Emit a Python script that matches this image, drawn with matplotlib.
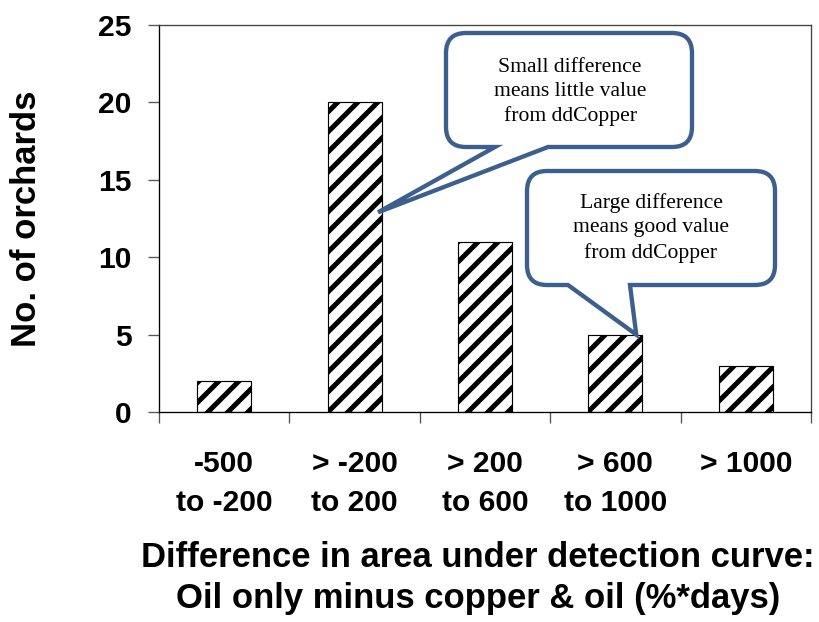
import matplotlib
matplotlib.use("Agg")
import matplotlib.pyplot as plt
from matplotlib.path import Path
from matplotlib.patches import PathPatch
import numpy as np

# Orchard counts per difference class
categories = ["-500\nto -200", "> -200\nto 200", "> 200\nto 600", "> 600\nto 1000", "> 1000"]
counts = [2, 20, 11, 5, 3]
y_ticks = [0, 5, 10, 15, 20, 25]

note_small = "Small difference\nmeans little value\nfrom ddCopper"
note_large = "Large difference\nmeans good value\nfrom ddCopper"

DPI = 120
W, H = 819, 622
plt.rcParams["hatch.linewidth"] = 3.0
plt.rcParams["hatch.color"] = "black"
sans = "Liberation Sans"
serif = "Liberation Serif"

fig = plt.figure(figsize=(W / DPI, H / DPI), dpi=DPI)
ax = fig.add_axes([159 / W, 1 - 412 / H, (811 - 159) / W, (412 - 25) / H])

x = np.arange(len(categories)) + 0.5
ax.bar(x, counts, width=0.415, color="white", edgecolor="black",
       linewidth=0.7, hatch="//", zorder=2)

ax.set_xlim(0, len(categories))
ax.set_ylim(0, 25)
ax.set_yticks(y_ticks)
ax.set_xticks(x)
ax.set_xticklabels(categories, linespacing=1.5)
ax.set_xticks(np.arange(len(categories) + 1), minor=True)
ax.tick_params(axis="x", which="major", length=0, pad=23)
ax.tick_params(axis="x", which="minor", length=6.5, width=0.8, color="#555555", direction="out")
ax.tick_params(axis="y", length=6.5, width=0.8, color="#555555", pad=10)
for lab in ax.get_xticklabels() + ax.get_yticklabels():
    lab.set_fontfamily(sans)
    lab.set_fontweight("bold")
    lab.set_fontsize(18)
for s in ["top", "right"]:
    ax.spines[s].set_color("#444444")
    ax.spines[s].set_linewidth(0.8)
for s in ["left", "bottom"]:
    ax.spines[s].set_color("black")
    ax.spines[s].set_linewidth(0.8)

ax.set_ylabel("No. of orchards", fontfamily=sans, fontweight="bold",
              fontsize=20.8, labelpad=33)
ax.set_xlabel("Difference in area under detection curve:\nOil only minus copper & oil (%*days)",
              fontfamily=sans, fontweight="bold", fontsize=20.8, labelpad=14,
              linespacing=1.33)
ax.xaxis.label.set_x(0.489)

# Overlay in pixel coordinates (origin top-left) for the speech bubbles
ov = fig.add_axes([0, 0, 1, 1], zorder=5)
ov.set_xlim(0, W)
ov.set_ylim(H, 0)
ov.axis("off")
ov.patch.set_alpha(0)


def to_px(xd, yd):
    px, py = ax.transData.transform((xd, yd))
    return px * W / fig.bbox.width, H - py * H / fig.bbox.height


def bubble(x0, y0, x1, y1, r, bl, br, tip):
    verts = [
        (x0 + r, y0), (x1 - r, y0),
        (x1, y0), (x1, y0 + r),
        (x1, y1 - r),
        (x1, y1), (x1 - r, y1),
        (br, y1), tip, (bl, y1),
        (x0 + r, y1),
        (x0, y1), (x0, y1 - r),
        (x0, y0 + r),
        (x0, y0), (x0 + r, y0),
        (x0 + r, y0),
    ]
    codes = [Path.MOVETO, Path.LINETO,
             Path.CURVE3, Path.CURVE3,
             Path.LINETO,
             Path.CURVE3, Path.CURVE3,
             Path.LINETO, Path.LINETO, Path.LINETO,
             Path.LINETO,
             Path.CURVE3, Path.CURVE3,
             Path.LINETO,
             Path.CURVE3, Path.CURVE3,
             Path.CLOSEPOLY]
    return PathPatch(Path(verts, codes), facecolor="white",
                     edgecolor="#3D5F8E", linewidth=2.6, joinstyle="miter")


tip1 = to_px(x[1] + 0.18, 12.9)
tip2 = to_px(x[3] + 0.16, counts[3])
ov.add_patch(bubble(446, 33, 692, 147, 20, 495, 548, tip1))
ov.add_patch(bubble(527, 171, 775, 285, 20, 568, 630, tip2))
ov.text(570, 92, note_small, ha="center", va="center", fontfamily=serif,
        fontsize=13, linespacing=1.38)
ov.text(651, 228, note_large, ha="center", va="center", fontfamily=serif,
        fontsize=13, linespacing=1.38)

fig.savefig("out.png", dpi=DPI)
